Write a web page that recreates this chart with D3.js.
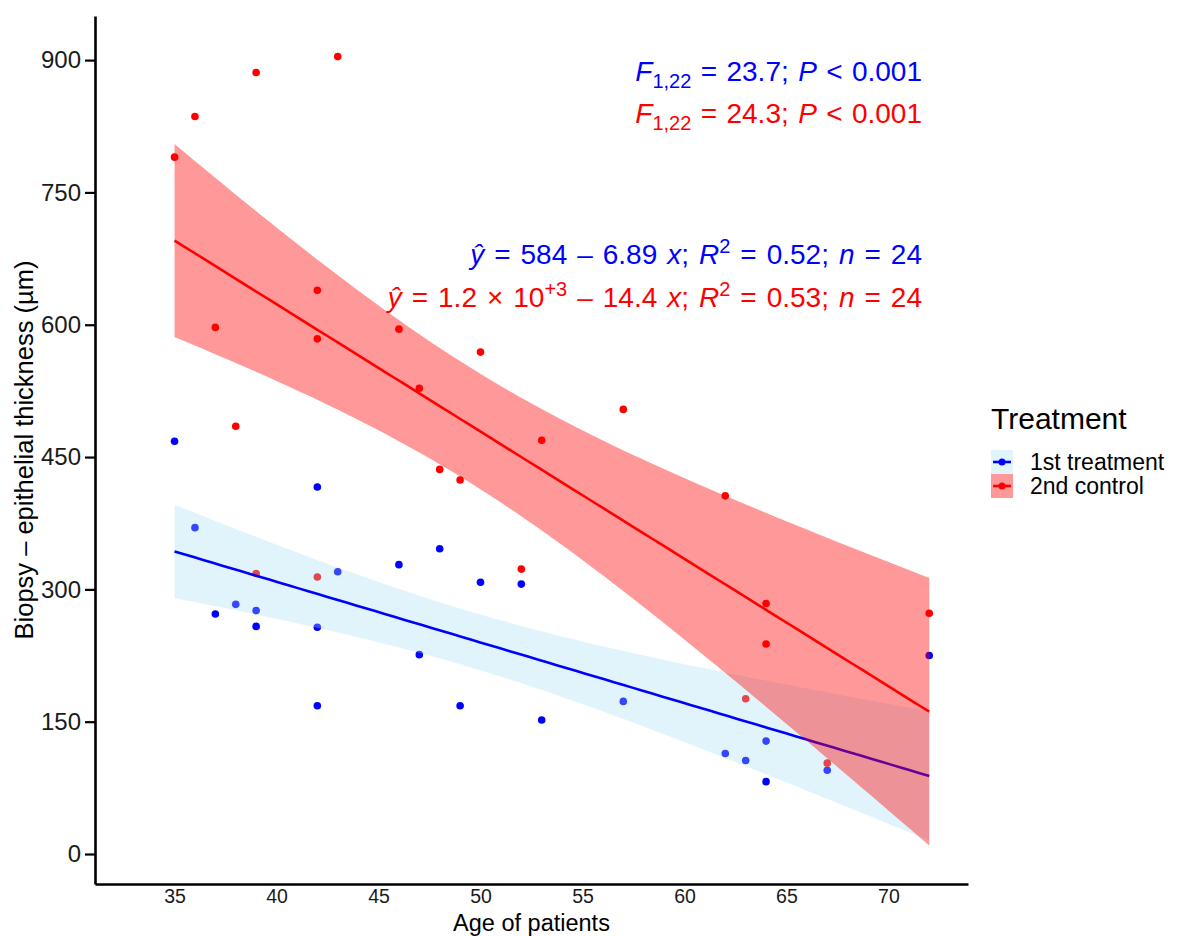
<!DOCTYPE html>
<html>
<head>
<meta charset="utf-8">
<script src="https://cdn.jsdelivr.net/npm/d3@7"></script>
<style>
  body { margin: 0; background: #fff; }
  svg { font-family: "Liberation Sans", Arial, sans-serif; }
</style>
</head>
<body>
<div id="chart"></div>
<script>
// ages of the 24 patients (same for both measurements)
const ages = [35, 36, 37, 38, 39, 39, 42, 42, 42, 43, 46, 47, 48, 49, 50, 52, 53, 57, 62, 63, 64, 64, 67, 72];

// thickness values, same order as ages
const firstTreatment = [468, 370, 272, 283, 276, 258, 416, 257, 168, 320, 328, 226, 346, 168, 308, 306, 152, 173, 114, 106, 128, 82, 95, 225];
const secondControl = [790, 836, 597, 485, 886, 318, 639, 584, 314, 904, 595, 528, 436, 424, 569, 323, 469, 504, 406, 176, 284, 238, 103, 273];

const groups = ["1st treatment", "2nd control"];
const xTicks = [35, 40, 45, 50, 55, 60, 65, 70];
const yTicks = [0, 150, 300, 450, 600, 750, 900];

const width = 1182,
      height = 936,
      margin = ({ top: 16, right: 214, bottom: 52, left: 95 });

const lineColor = { "1st treatment": "#0000ff", "2nd control": "#ff0000" };
const bandColor = { "1st treatment": "#a6def2", "2nd control": "#ff0000" };
const bandAlpha = { "1st treatment": 0.32, "2nd control": 0.4 };

let svg = d3.select("#chart")
    .append("svg")
    .attr("width", width)
    .attr("height", height);

let x = d3.scaleLinear()
    .domain([31.1, 73.9])
    .range([margin.left, width - margin.right]);

let y = d3.scaleLinear()
    .domain([-34, 950])
    .range([height - margin.bottom, margin.top]);

// least squares fit with 95% confidence band (like geom_smooth(method = "lm"))
function linFit(xs, ys) {
    const n = xs.length;
    const mx = d3.mean(xs), my = d3.mean(ys);
    let sxx = 0, sxy = 0;
    xs.forEach((v, i) => { sxx += (v - mx) ** 2; sxy += (v - mx) * (ys[i] - my); });
    const b = sxy / sxx, a = my - b * mx;
    let rss = 0;
    xs.forEach((v, i) => { rss += (ys[i] - a - b * v) ** 2; });
    const s = Math.sqrt(rss / (n - 2));
    const tq = 2.0739; // t(0.975, df = 22)
    const grid = d3.range(80).map(i => d3.min(xs) + i * (d3.max(xs) - d3.min(xs)) / 79);
    return grid.map(g => {
        const fit = a + b * g;
        const se = s * Math.sqrt(1 / n + (g - mx) ** 2 / sxx);
        return { x: g, fit: fit, lo: fit - tq * se, hi: fit + tq * se };
    });
}

const series = [
    { name: groups[0], values: firstTreatment },
    { name: groups[1], values: secondControl }
];

// points first, ribbons are drawn over them
series.forEach(s => {
    svg.append("g")
        .selectAll("circle")
        .data(s.values)
        .join("circle")
        .attr("cx", (d, i) => x(ages[i]))
        .attr("cy", d => y(d))
        .attr("r", 3.8)
        .attr("fill", lineColor[s.name]);
});

let area = d3.area()
    .x(d => x(d.x))
    .y0(d => y(d.lo))
    .y1(d => y(d.hi));

let line = d3.line()
    .x(d => x(d.x))
    .y(d => y(d.fit));

series.forEach(s => {
    const fit = linFit(ages, s.values);
    svg.append("path")
        .datum(fit)
        .attr("d", area)
        .attr("fill", bandColor[s.name])
        .attr("fill-opacity", bandAlpha[s.name]);
    svg.append("path")
        .datum(fit)
        .attr("d", line)
        .attr("fill", "none")
        .attr("stroke", lineColor[s.name])
        .attr("stroke-width", 2.6);
});

// axes
let yAxis = svg.append("g")
    .attr("transform", `translate(${margin.left},0)`)
    .call(d3.axisLeft(y).tickValues(yTicks).tickSize(10).tickSizeOuter(0).tickPadding(4));
yAxis.selectAll("text").attr("font-size", 24).attr("fill", "#1a1a1a").attr("font-family", null);
yAxis.selectAll("line").attr("stroke-width", 2.2);
yAxis.select(".domain").attr("stroke-width", 2.6);

let xAxis = svg.append("g")
    .attr("transform", `translate(0,${height - margin.bottom})`)
    .call(d3.axisBottom(x).tickValues(xTicks).tickSize(0).tickSizeOuter(0).tickPadding(5));
xAxis.selectAll("text").attr("font-size", 19.5).attr("fill", "#1a1a1a").attr("font-family", null);
xAxis.select(".domain").attr("stroke-width", 2.6);

svg.append("text")
    .attr("x", (margin.left + width - margin.right) / 2)
    .attr("y", 931)
    .attr("text-anchor", "middle")
    .attr("font-size", 23.5)
    .text("Age of patients");

svg.append("text")
    .attr("transform", `translate(33,${(margin.top + height - margin.bottom) / 2}) rotate(-90)`)
    .attr("text-anchor", "middle")
    .attr("font-size", 25.5)
    .text("Biopsy – epithelial thickness (µm)");

// annotations (F test + regression equations)
function fLine(yPos, color, fval) {
    let t = svg.append("text")
        .attr("x", 922).attr("y", yPos)
        .attr("text-anchor", "end")
        .attr("font-size", 28)
        .attr("word-spacing", "1.6px")
        .attr("fill", color);
    t.append("tspan").attr("font-style", "italic").text("F");
    t.append("tspan").attr("font-size", 20).attr("dy", 7).text("1,22");
    t.append("tspan").attr("dy", -7).text(" = " + fval + "; ");
    t.append("tspan").attr("font-style", "italic").text("P");
    t.append("tspan").text(" < 0.001");
}
fLine(81, lineColor[groups[0]], "23.7");
fLine(123, lineColor[groups[1]], "24.3");

function eqLine(yPos, color, parts, r2) {
    let t = svg.append("text")
        .attr("x", 922).attr("y", yPos)
        .attr("text-anchor", "end")
        .attr("font-size", 28)
        .attr("word-spacing", "2.2px")
        .attr("fill", color);
    t.append("tspan").attr("font-style", "italic").text("ŷ");
    parts(t);
    t.append("tspan").attr("font-style", "italic").text("x");
    t.append("tspan").text("; ");
    t.append("tspan").attr("font-style", "italic").text("R");
    t.append("tspan").attr("font-size", 20).attr("dy", -11).text("2");
    t.append("tspan").attr("dy", 11).text(" = " + r2 + "; ");
    t.append("tspan").attr("font-style", "italic").text("n");
    t.append("tspan").text(" = 24");
}
eqLine(264, lineColor[groups[0]], t => {
    t.append("tspan").text(" = 584 – 6.89 ");
}, "0.52");
eqLine(307, lineColor[groups[1]], t => {
    t.append("tspan").text(" = 1.2 × 10");
    t.append("tspan").attr("font-size", 20).attr("dy", -11).text("+3");
    t.append("tspan").attr("dy", 11).text(" – 14.4 ");
}, "0.53");

// legend
let legend = svg.append("g").attr("transform", "translate(991,0)");
legend.append("text")
    .attr("x", 0).attr("y", 429)
    .attr("font-size", 30)
    .text("Treatment");

let keys = legend.selectAll(".key")
    .data(groups)
    .join("g")
    .attr("class", "key")
    .attr("transform", (d, i) => `translate(0,${450 + i * 24})`);

keys.append("rect")
    .attr("width", 22).attr("height", 24)
    .attr("fill", d => bandColor[d])
    .attr("fill-opacity", d => bandAlpha[d]);
keys.append("line")
    .attr("x1", 2).attr("x2", 20)
    .attr("y1", 12).attr("y2", 12)
    .attr("stroke", d => lineColor[d])
    .attr("stroke-width", 2.6);
keys.append("circle")
    .attr("cx", 11).attr("cy", 12).attr("r", 3.5)
    .attr("fill", d => lineColor[d]);
keys.append("text")
    .attr("x", 39).attr("y", 20)
    .attr("font-size", 23)
    .text(d => d);
</script>
</body>
</html>
